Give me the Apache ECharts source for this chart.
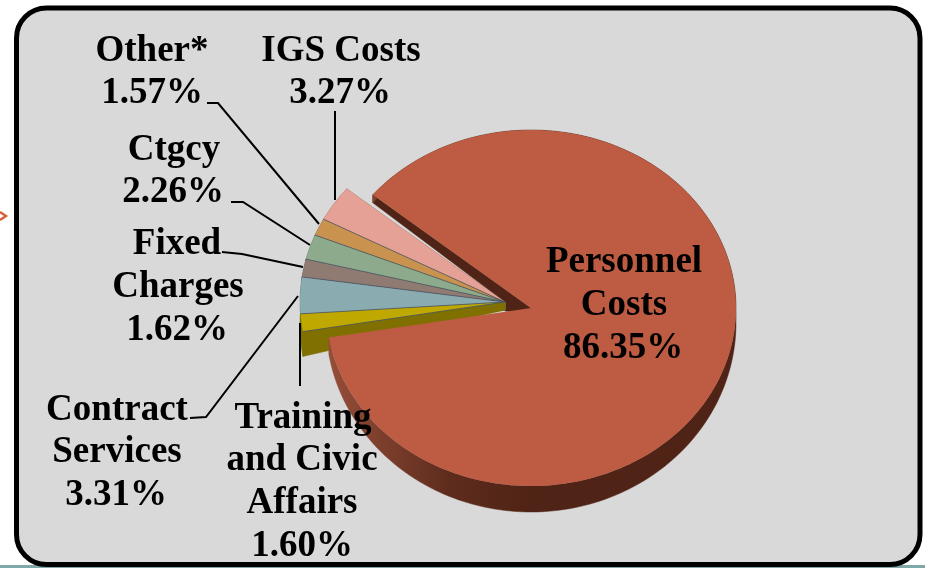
<!DOCTYPE html>
<html><head><meta charset="utf-8">
<style>html,body{margin:0;padding:0;background:#fff}#c{width:925px;height:568px}</style>
<script src="https://cdn.jsdelivr.net/npm/echarts@6/dist/echarts.min.js"></script>
</head><body><div id="c"></div>
<script>
var categories = ['Personnel Costs','Training and Civic Affairs','Contract Services','Fixed Charges','Ctgcy','Other*','IGS Costs'];
var values = [86.35,1.60,3.31,1.62,2.26,1.57,3.27];
var faceColors = ['#BD5C42','#BFA800','#8AABB0','#8F7B72','#8DAB8C','#C9924F','#E6A196'];
var wallColors = ['#4F2315','#7F7000','#5c7276','#5f524c','#5e725d','#866234','#99685f'];

var RX=205, RY=178, CX=531, CY=308, START=219.5, DX=-26, DY=-6;
var total = values.reduce(function(a,b){return a+b;},0);
function toRad(d){return d*Math.PI/180;}
function rim(a0,a1,cx,cy){
  var pts=[], n=Math.max(2,Math.ceil((a1-a0)/1.5));
  for(var i=0;i<=n;i++){var a=toRad(a0+(a1-a0)*i/n);pts.push([cx+RX*Math.cos(a),cy+RY*Math.sin(a)]);}
  return pts;
}
function renderItem(params,api){
  var idx=params.dataIndex, before=0;
  for(var i=0;i<idx;i++)before+=values[i];
  var a0=START+before/total*360, a1=a0+api.value(1)/total*360;
  var main=idx===0, cx=main?CX:CX+DX, cy=main?CY:CY+DY;
  var r=rim(a0,a1,cx,cy), apex=[cx,cy], first=r[0], last=r[r.length-1];
  var rimDepth=main?function(p){return 8+(p[1]-195)*18/291;}
                   :function(p){return 8+17*(cx-p[0])/204;};
  function down(p,f){return [p[0],p[1]+f(p)];}
  var wallZ=main?4:2+(7-idx)*0.05, col=wallColors[idx], ch=[];
  function wall(points,z,fill){var f=fill||col;ch.push({type:'polygon',z2:z,silent:true,shape:{points:points},style:{fill:f,stroke:f,lineWidth:0.5}});}
  if(main){
    // cut wall at the start of the big slice, filling the notch up to the inner group of slices
    var inner=[cx+DX,cy+DY];
    wall([apex,first,[first[0],first[1]+8],inner,[inner[0],inner[1]+9],[cx,cy+6]],1);
    var grad={type:'linear',x:CX-RX,y:0,x2:CX+RX,y2:0,global:true,
      colorStops:[{offset:0,color:'#964E39'},{offset:0.3,color:'#5E2C1D'},{offset:0.5,color:'#4F2315'},{offset:1,color:'#4F2315'}]};
    wall(r.concat(r.slice().reverse().map(function(p){return down(p,rimDepth);})),wallZ,grad);
  } else {
    wall([apex,first,down(first,rimDepth),down(apex,rimDepth)],wallZ);
    wall(r.concat(r.slice().reverse().map(function(p){return down(p,rimDepth);})),wallZ);
    wall([apex,last,down(last,rimDepth),down(apex,rimDepth)],wallZ);
  }
  ch.push({type:'polygon',z2:main?5:3,silent:true,shape:{points:[apex].concat(r)},style:{fill:faceColors[idx]}});
  if(!main){
    ch.push({type:'line',z2:3.5,silent:true,shape:{x1:cx,y1:cy,x2:first[0],y2:first[1]},style:{stroke:'#4a5560',lineWidth:1,opacity:0.8}});
  }
  return {type:'group',children:ch};
}

var FONT='bold 37px "Liberation Serif"';
function pct(i){return values[i].toFixed(2)+'%';}
var labelLines=[
  ['Personnel',624,262],['Costs',624,305],[pct(0),623,348],
  ['Training',303,418],['and Civic',302,460],['Affairs',302,503],[pct(1),302,546],
  ['Contract',117,410],['Services',117,452],[pct(2),116,495],
  ['Fixed',177,244],['Charges',178,287],[pct(3),177,330],
  ['Ctgcy',174,150],[pct(4),173,192],
  ['Other*',152,51],[pct(5),152,93],
  ['IGS Costs',341,51],[pct(6),340,93]
];
var leaders=[
  [[207,103],[218,103],[319,224]],
  [[335,111],[335,200]],
  [[231,202],[243,202],[310,245]],
  [[222,252],[242,254],[303,267]],
  [[190,418],[206,417],[298,296]],
  [[300,323],[300,386]]
];
var graphics=[
  {type:'rect',z:-20,silent:true,shape:{x:0,y:565,width:925,height:3},style:{fill:'#7FA8A8'}},
  {type:'rect',z:-10,silent:true,shape:{x:16.5,y:8,width:903.5,height:556.5,r:30},style:{fill:'#D9D9D9',stroke:'#000',lineWidth:5}},
  {type:'polyline',z:-5,silent:true,shape:{points:[[0,212],[6,216],[0,220]]},style:{fill:'none',stroke:'#D9603B',lineWidth:2.4}}
];
leaders.forEach(function(l){graphics.push({type:'polyline',z:50,silent:true,shape:{points:l},style:{fill:'none',stroke:'#000',lineWidth:2}});});
labelLines.forEach(function(t){graphics.push({type:'text',z:60,silent:true,x:t[1],y:t[2],style:{text:t[0],font:FONT,fill:'#000',align:'center',verticalAlign:'middle'}});});

var chart=echarts.init(document.getElementById('c'),null,{renderer:'canvas'});
chart.setOption({
  animation:false,
  backgroundColor:'#fff',
  graphic:graphics,
  series:[{type:'custom',coordinateSystem:'none',renderItem:renderItem,silent:true,
    data:categories.map(function(n,i){return [n,values[i]];}),
    encode:{itemName:0,value:1}}]
});
</script></body></html>
